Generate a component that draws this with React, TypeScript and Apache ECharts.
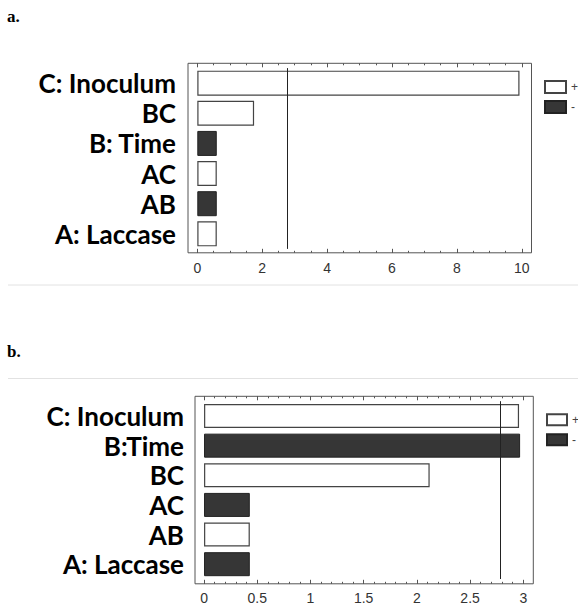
import React, { useEffect, useRef } from "react";
import * as echarts from "echarts";

// ---- Panel a data ----
const aCategories = ["C: Inoculum", "BC", "B: Time", "AC", "AB", "A: Laccase"];
const aValues = [9.93, 1.75, 0.6, 0.6, 0.6, 0.6];
const aSigns = ["+", "+", "-", "+", "-", "+"];
const aRefLine = 2.77;
const aTickLabels = [0, 2, 4, 6, 8, 10];
const aMinorTicks = [0, 0.5, 1, 1.5, 2, 2.5, 3, 3.5, 4, 4.5, 5, 5.5, 6, 6.5, 7, 7.5, 8, 8.5, 9, 9.5, 10];

// ---- Panel b data ----
const bCategories = ["C: Inoculum", "B:Time", "BC", "AC", "AB", "A: Laccase"];
const bValues = [2.96, 2.97, 2.12, 0.43, 0.43, 0.43];
const bSigns = ["+", "-", "+", "-", "+", "-"];
const bRefLine = 2.78;
const bTickLabels = [0, 0.5, 1, 1.5, 2, 2.5, 3];
const bMinorTicks = [
  0, 0.1, 0.2, 0.3, 0.4, 0.5, 0.6, 0.7, 0.8, 0.9, 1, 1.1, 1.2, 1.3, 1.4, 1.5, 1.6, 1.7, 1.8, 1.9, 2,
  2.1, 2.2, 2.3, 2.4, 2.5, 2.6, 2.7, 2.8, 2.9, 3,
];

const legendNames = ["+", "-"];

const plusStyle = { color: "#ffffff", borderColor: "#444444", borderWidth: 1.2 };
const minusStyle = { color: "#363636", borderColor: "#222222", borderWidth: 1 };

type PanelCfg = {
  categories: string[];
  values: number[];
  signs: string[];
  ref: number;
  tickLabels: number[];
  minorTicks: number[];
  frame: { left: number; top: number; width: number; height: number };
  dataTop: number;
  dataHeight: number;
  xMin: number;
  xMax: number;
  barWidth: number;
  labelMargin: number;
  tickLabelMargin: number;
  legend: { left: number; top: number; itemWidth: number; itemHeight: number; itemGap: number };
};

function buildPanel(cfg: PanelCfg, gBase: number, xBase: number, yBase: number) {
  const grids = [
    {
      left: cfg.frame.left,
      top: cfg.frame.top,
      width: cfg.frame.width,
      height: cfg.frame.height,
      show: true,
      borderColor: "#555555",
      borderWidth: 1,
      backgroundColor: "transparent",
    },
    {
      left: cfg.frame.left,
      top: cfg.dataTop,
      width: cfg.frame.width,
      height: cfg.dataHeight,
      show: false,
    },
  ];
  const tickLine = { color: "#555555", width: 1 };
  const xAxes = [
    {
      type: "value",
      gridIndex: gBase,
      position: "bottom",
      min: cfg.xMin,
      max: cfg.xMax,
      axisLine: { show: false },
      splitLine: { show: false },
      axisTick: { show: true, inside: true, length: 4, customValues: cfg.tickLabels, lineStyle: tickLine },
      axisLabel: {
        show: true,
        customValues: cfg.tickLabels,
        color: "#333333",
        fontSize: 14,
        fontFamily: "Liberation Sans",
        margin: cfg.tickLabelMargin,
      },
    },
    {
      type: "value",
      gridIndex: gBase,
      position: "bottom",
      min: cfg.xMin,
      max: cfg.xMax,
      axisLine: { show: false },
      splitLine: { show: false },
      axisTick: { show: true, inside: true, length: 2, customValues: cfg.minorTicks, lineStyle: tickLine },
      axisLabel: { show: false },
    },
    {
      type: "value",
      gridIndex: gBase,
      position: "top",
      min: cfg.xMin,
      max: cfg.xMax,
      axisLine: { show: false },
      splitLine: { show: false },
      axisTick: { show: true, inside: true, length: 4, customValues: cfg.tickLabels, lineStyle: tickLine },
      axisLabel: { show: false },
    },
    {
      type: "value",
      gridIndex: gBase,
      position: "top",
      min: cfg.xMin,
      max: cfg.xMax,
      axisLine: { show: false },
      splitLine: { show: false },
      axisTick: { show: true, inside: true, length: 2, customValues: cfg.minorTicks, lineStyle: tickLine },
      axisLabel: { show: false },
    },
    {
      type: "value",
      gridIndex: gBase + 1,
      min: cfg.xMin,
      max: cfg.xMax,
      show: false,
    },
  ];
  const yAxes = [
    { type: "value", gridIndex: gBase, show: false, min: 0, max: 1 },
    {
      type: "category",
      gridIndex: gBase + 1,
      inverse: true,
      data: cfg.categories,
      axisLine: { show: false },
      axisTick: { show: false },
      splitLine: { show: false },
      axisLabel: {
        interval: 0,
        color: "#000000",
        fontSize: 26,
        fontWeight: "bold",
        fontFamily: "Lato",
        margin: cfg.labelMargin,
      },
    },
  ];
  const dataX = xBase + 4;
  const dataY = yBase + 1;
  const series = [
    {
      name: "+",
      type: "bar",
      xAxisIndex: dataX,
      yAxisIndex: dataY,
      barWidth: cfg.barWidth,
      barGap: "-100%",
      itemStyle: plusStyle,
      data: cfg.values.map((v, i) => (cfg.signs[i] === "+" ? v : "-")),
    },
    {
      name: "-",
      type: "bar",
      xAxisIndex: dataX,
      yAxisIndex: dataY,
      barWidth: cfg.barWidth,
      barGap: "-100%",
      itemStyle: minusStyle,
      data: cfg.values.map((v, i) => (cfg.signs[i] === "-" ? v : "-")),
      markLine: {
        silent: true,
        symbol: ["none", "none"],
        label: { show: false },
        lineStyle: { color: "#222222", width: 1, type: "solid" },
        data: [{ xAxis: cfg.ref }],
      },
    },
  ];
  const legend = {
    left: cfg.legend.left,
    top: cfg.legend.top,
    orient: "vertical",
    icon: "rect",
    itemWidth: cfg.legend.itemWidth,
    itemHeight: cfg.legend.itemHeight,
    itemGap: cfg.legend.itemGap,
    padding: 0,
    selectedMode: false,
    data: legendNames,
    textStyle: { fontSize: 12, color: "#444444", fontFamily: "Liberation Sans" },
  };
  return { grids, xAxes, yAxes, series, legend };
}

export default function App() {
  const ref = useRef<HTMLDivElement>(null);
  useEffect(() => {
    if (!ref.current) return;
    const chart = echarts.init(ref.current, undefined, { renderer: "svg" });
    const pa = buildPanel(
      {
        categories: aCategories,
        values: aValues,
        signs: aSigns,
        ref: aRefLine,
        tickLabels: aTickLabels,
        minorTicks: aMinorTicks,
        frame: { left: 188, top: 63.3, width: 343.5, height: 189.5 },
        dataTop: 68.1,
        dataHeight: 180.8,
        xMin: -0.287,
        xMax: 10.3,
        barWidth: 25,
        labelMargin: 12,
        tickLabelMargin: 8,
        legend: { left: 544, top: 80, itemWidth: 21, itemHeight: 12, itemGap: 6 },
      },
      0,
      0,
      0
    );
    const pb = buildPanel(
      {
        categories: bCategories,
        values: bValues,
        signs: bSigns,
        ref: bRefLine,
        tickLabels: bTickLabels,
        minorTicks: bMinorTicks,
        frame: { left: 195, top: 396.3, width: 338.3, height: 187.5 },
        dataTop: 401.2,
        dataHeight: 177.8,
        xMin: -0.085,
        xMax: 3.094,
        barWidth: 24,
        labelMargin: 11,
        tickLabelMargin: 7,
        legend: { left: 546, top: 413.3, itemWidth: 20, itemHeight: 11, itemGap: 7 },
      },
      2,
      5,
      2
    );
    chart.setOption({
      animation: false,
      backgroundColor: "#ffffff",
      grid: [...pa.grids, ...pb.grids],
      xAxis: [...pa.xAxes, ...pb.xAxes],
      yAxis: [...pa.yAxes, ...pb.yAxes],
      series: [...pa.series, ...pb.series],
      legend: [pa.legend, pb.legend],
      graphic: [
        {
          type: "text",
          left: 7,
          top: 8,
          style: { text: "a.", font: "bold 17px 'Liberation Serif'", fill: "#000000" },
        },
        {
          type: "text",
          left: 7,
          top: 343,
          style: { text: "b.", font: "bold 17px 'Liberation Serif'", fill: "#000000" },
        },
        {
          type: "line",
          shape: { x1: 8, y1: 285, x2: 578, y2: 285 },
          style: { stroke: "#e2e2e2", lineWidth: 1 },
        },
        {
          type: "line",
          shape: { x1: 8, y1: 378.5, x2: 578, y2: 378.5 },
          style: { stroke: "#e2e2e2", lineWidth: 1 },
        },
      ],
    });
    return () => chart.dispose();
  }, []);
  return (
    <div
      ref={ref}
      style={{ position: "absolute", left: 0, top: 0, width: 578, height: 610, background: "#fff" }}
    />
  );
}
